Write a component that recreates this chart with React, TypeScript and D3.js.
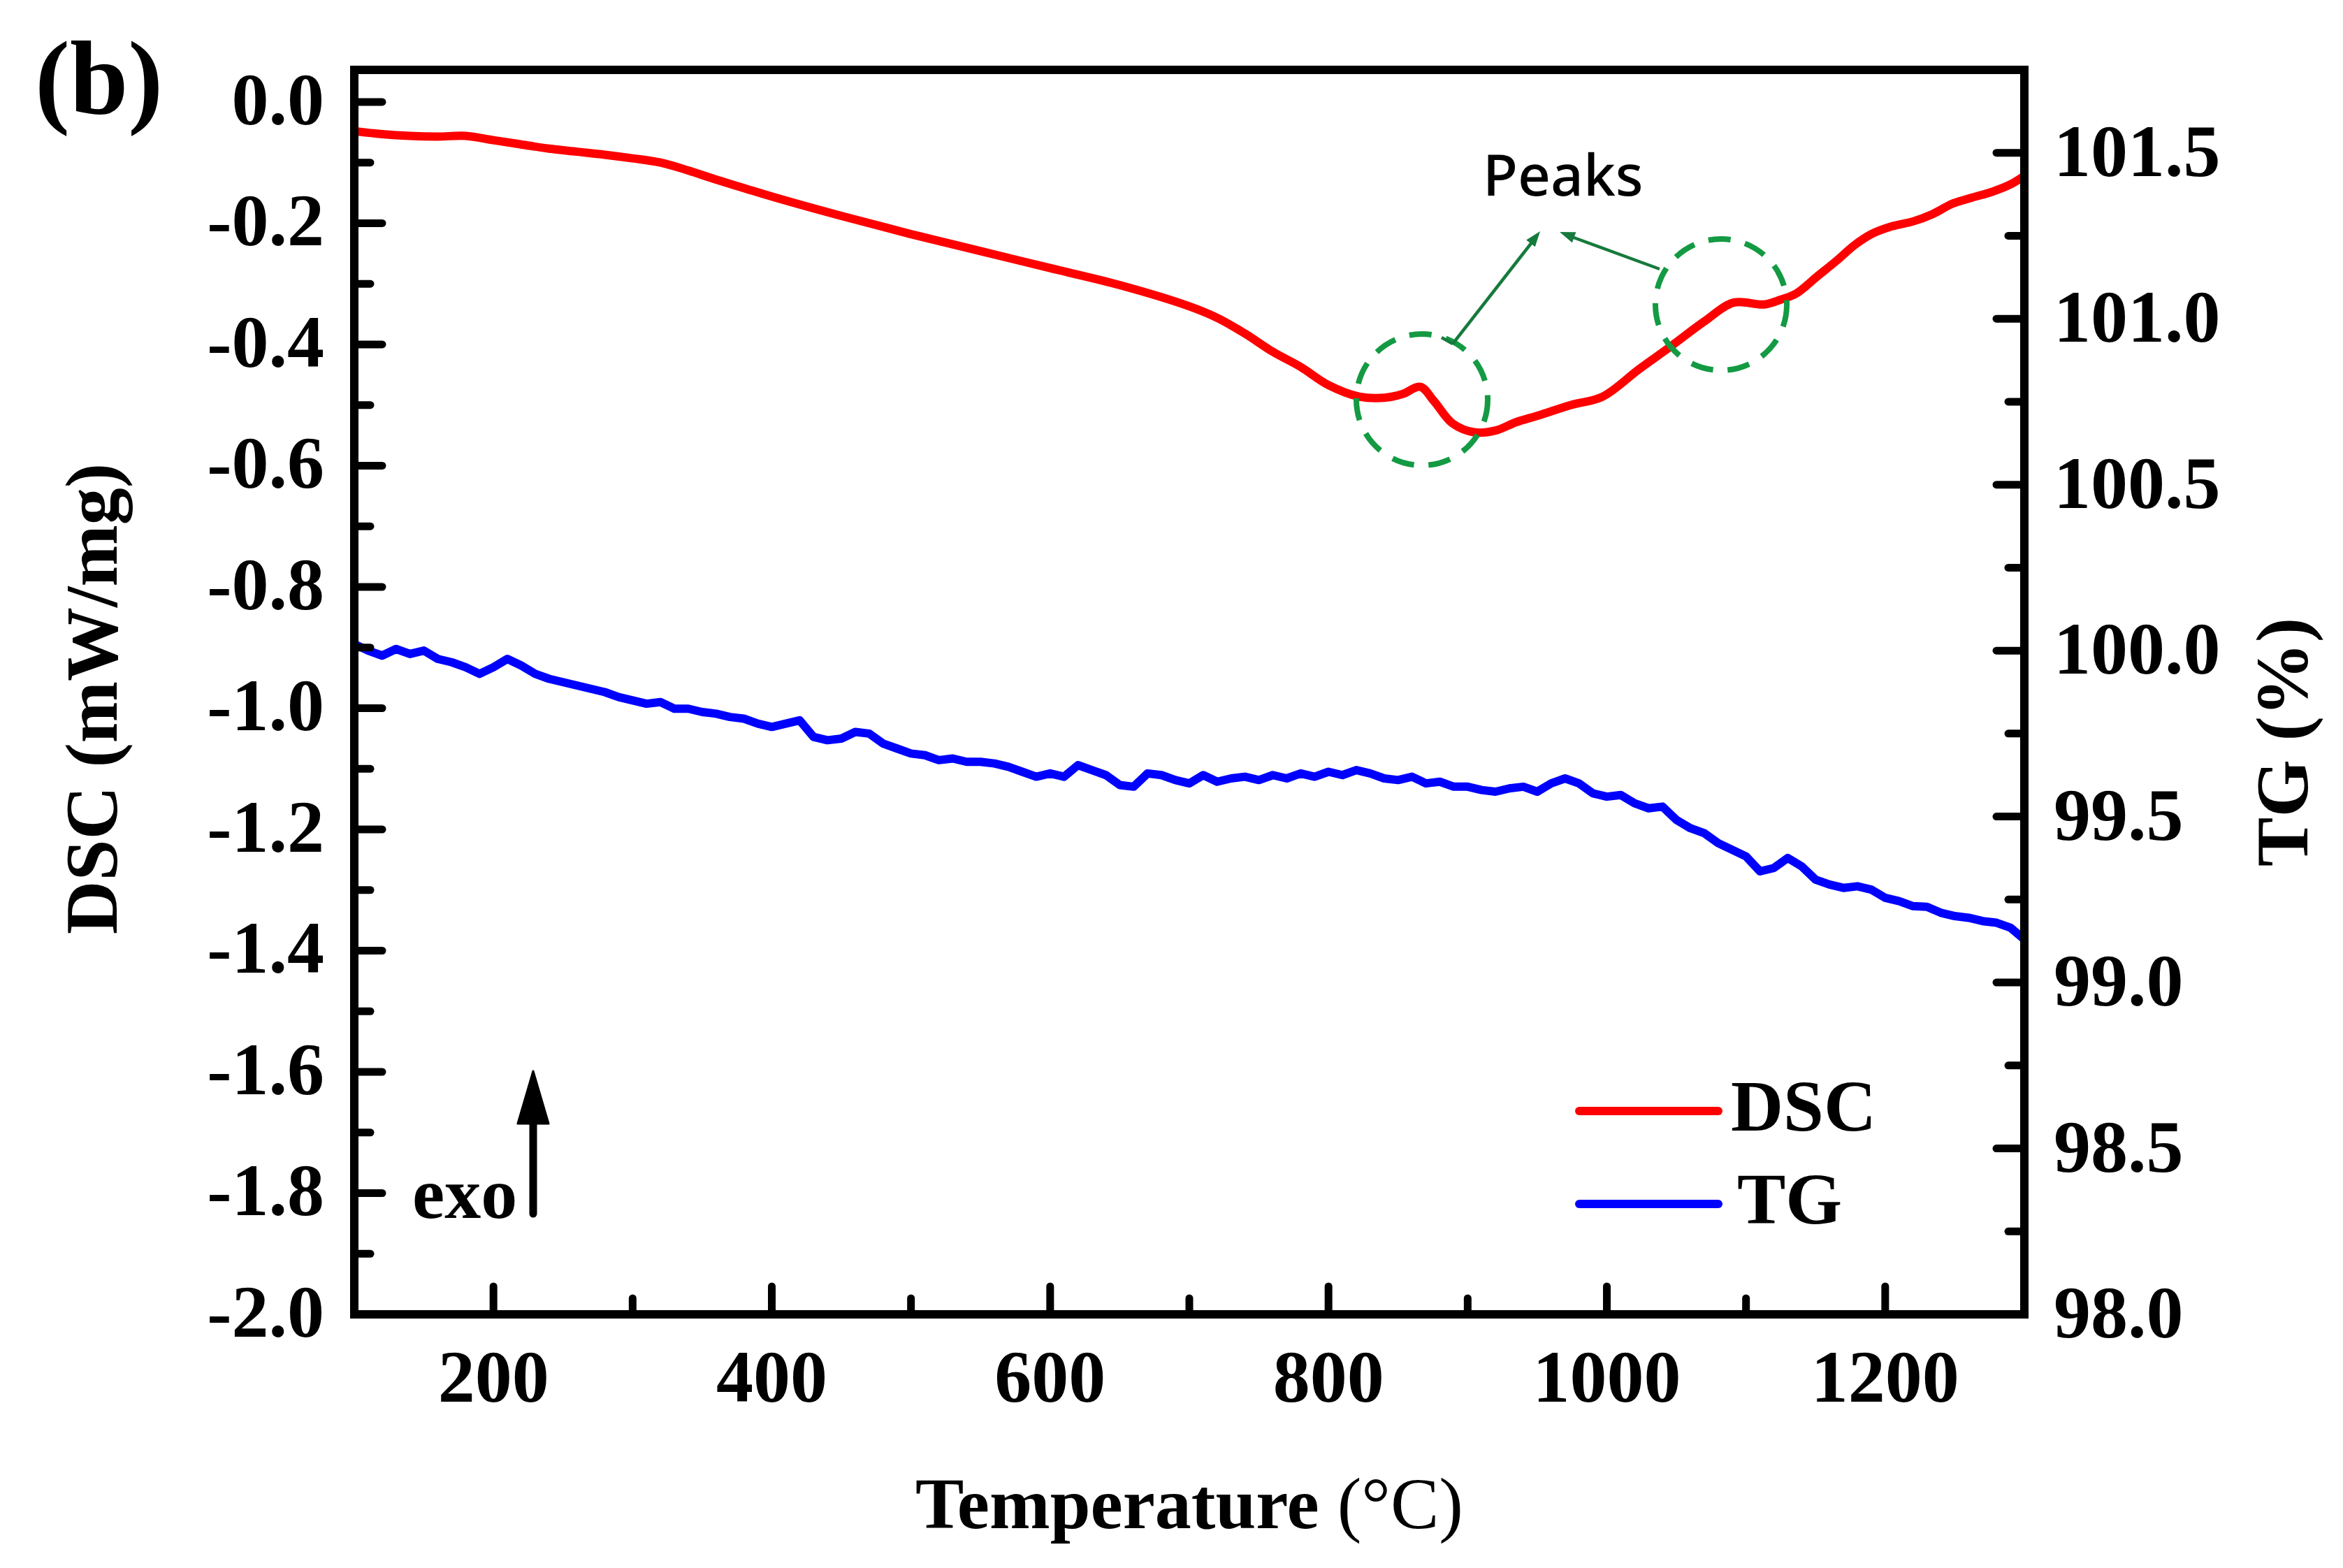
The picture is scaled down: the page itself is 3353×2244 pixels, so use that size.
import React from "react";
import * as d3 from "d3";

const W = 3353;
const H = 2244;
const PLOT = { left: 507, right: 2897, top: 100, bottom: 1881 };

// ---------- data ----------
const xDomain: [number, number] = [100, 1300];
const dscDomain: [number, number] = [-2.0, 0.053];
const tgDomain: [number, number] = [98.0, 101.75];

const xTicks = [200, 400, 600, 800, 1000, 1200];
const xMinorTicks = [300, 500, 700, 900, 1100];
const dscTicks = [0, -0.2, -0.4, -0.6, -0.8, -1.0, -1.2, -1.4, -1.6, -1.8, -2.0];
const dscTickLabels = ["0.0", "-0.2", "-0.4", "-0.6", "-0.8", "-1.0", "-1.2", "-1.4", "-1.6", "-1.8", "-2.0"];
const dscMinorTicks = [-0.1, -0.3, -0.5, -0.7, -0.9, -1.1, -1.3, -1.5, -1.7, -1.9];
const tgTicks = [98.0, 98.5, 99.0, 99.5, 100.0, 100.5, 101.0, 101.5];
const tgTickLabels = ["98.0", "98.5", "99.0", "99.5", "100.0", "100.5", "101.0", "101.5"];
const tgMinorTicks = [98.25, 98.75, 99.25, 99.75, 100.25, 100.75, 101.25];

const dscT = [
  100, 120, 140, 160, 180, 200, 220, 240, 260, 280, 300, 320, 340, 360, 380, 400,
  450, 500, 550, 600, 650, 700, 720, 740, 760, 780, 800, 822, 840, 853, 866, 876,
  889, 905, 920, 935, 951, 974, 997, 1023, 1046, 1070, 1091, 1113, 1125, 1136, 1151,
  1165, 1178, 1190, 1205, 1220, 1234, 1248, 1262, 1277, 1290, 1300,
];
const dscV = [
  -0.048, -0.053, -0.056, -0.057, -0.056, -0.063, -0.07, -0.077, -0.082, -0.087, -0.093, -0.1, -0.113, -0.128, -0.142, -0.156,
  -0.188, -0.218, -0.246, -0.274, -0.302, -0.337, -0.356, -0.382, -0.412, -0.437, -0.467, -0.486, -0.488, -0.482, -0.47, -0.494,
  -0.53, -0.545, -0.542, -0.528, -0.517, -0.5, -0.486, -0.441, -0.403, -0.362, -0.331, -0.334, -0.326, -0.316, -0.288,
  -0.262, -0.236, -0.218, -0.205, -0.197, -0.185, -0.168, -0.158, -0.148, -0.136, -0.122,
];

const tgT = d3.range(100, 1301, 10);
const tgV = [
  100.02, 100.0, 99.985, 100.005, 99.99, 100.0, 99.975, 99.965, 99.95, 99.93, 99.95, 99.975, 99.955,
  99.93, 99.915, 99.905, 99.895, 99.885, 99.875, 99.86, 99.85, 99.84, 99.845, 99.825, 99.825, 99.815,
  99.81, 99.8, 99.795, 99.78, 99.77, 99.78, 99.79, 99.74, 99.73, 99.735, 99.755, 99.75, 99.72, 99.705,
  99.69, 99.685, 99.67, 99.675, 99.665, 99.665, 99.66, 99.65, 99.635, 99.62, 99.63, 99.62, 99.655,
  99.64, 99.625, 99.595, 99.59, 99.63, 99.625, 99.61, 99.6, 99.625, 99.605, 99.615, 99.62, 99.61,
  99.625, 99.615, 99.63, 99.62, 99.635, 99.625, 99.64, 99.63, 99.615, 99.61, 99.62, 99.6, 99.605,
  99.59, 99.59, 99.58, 99.575, 99.585, 99.59, 99.575, 99.6, 99.615, 99.6, 99.57, 99.56, 99.565,
  99.54, 99.525, 99.53, 99.49, 99.465, 99.45, 99.42, 99.4, 99.38, 99.335, 99.345, 99.375, 99.35,
  99.31, 99.295, 99.285, 99.29, 99.28, 99.255, 99.245, 99.23, 99.228, 99.21, 99.2, 99.195, 99.185,
  99.18, 99.165, 99.13,
];

const legendItems = ["DSC", "TG"];
const legendColors = ["#ff0000", "#0000ff"];

// ---------- scales ----------
const x = d3.scaleLinear().domain(xDomain).range([PLOT.left, PLOT.right]);
const yL = d3.scaleLinear().domain(dscDomain).range([PLOT.bottom, PLOT.top]);
const yR = d3.scaleLinear().domain(tgDomain).range([PLOT.bottom, PLOT.top]);

const SERIF = "'Liberation Serif', 'Times New Roman', Times, serif";
const SANS = "'Noto Sans', 'Open Sans', sans-serif";

function arrowHead(x1: number, y1: number, x2: number, y2: number, len: number, half: number) {
  const dx = x2 - x1;
  const dy = y2 - y1;
  const d = Math.hypot(dx, dy);
  const ux = dx / d;
  const uy = dy / d;
  const bx = x2 - ux * len;
  const by = y2 - uy * len;
  const px = -uy;
  const py = ux;
  return `M${x2},${y2}L${bx + px * half},${by + py * half}L${bx - px * half},${by - py * half}Z`;
}

export default function App() {
  const dscLine = d3
    .line<number>()
    .x((_, i) => x(dscT[i]))
    .y((d) => yL(d))
    .curve(d3.curveCatmullRom.alpha(0.5))(dscV) as string;
  const tgLine = d3
    .line<number>()
    .x((_, i) => x(tgT[i]))
    .y((d) => yR(d))
    .curve(d3.curveLinear)(tgV) as string;

  const majorLen = 40;
  const minorLen = 23;
  const tickW = 11;
  const fs = 106;

  // annotation geometry (pixel positions of the callouts)
  const e1 = { cx: 2035, cy: 572, r: 94 };
  const e2 = { cx: 2463, cy: 436, r: 94 };
  const a1 = { x1: 2079, y1: 492, x2: 2204, y2: 331 };
  const a2 = { x1: 2375, y1: 385, x2: 2232, y2: 332 };
  const green = "#139a43";
  const darkGreen = "#167a3c";

  return (
    <svg
      width={W}
      height={H}
      viewBox={`0 0 ${W} ${H}`}
      style={{ position: "absolute", left: 0, top: 0, background: "#fff" }}
      xmlns="http://www.w3.org/2000/svg"
    >
      <rect x={0} y={0} width={W} height={H} fill="#fff" />
      <defs>
        <clipPath id="plotClip">
          <rect x={PLOT.left} y={PLOT.top} width={PLOT.right - PLOT.left} height={PLOT.bottom - PLOT.top} />
        </clipPath>
      </defs>

      {/* data lines */}
      <g clipPath="url(#plotClip)">
        <path d={tgLine} fill="none" stroke="#0000ff" strokeWidth={12} strokeLinejoin="round" />
        <path d={dscLine} fill="none" stroke="#ff0000" strokeWidth={12} strokeLinejoin="round" />
      </g>

      {/* ticks */}
      <g stroke="#000" strokeWidth={tickW} strokeLinecap="round">
        {xTicks.map((t) => (
          <line key={"xt" + t} x1={x(t)} x2={x(t)} y1={PLOT.bottom} y2={PLOT.bottom - majorLen} />
        ))}
        {xMinorTicks.map((t) => (
          <line key={"xm" + t} x1={x(t)} x2={x(t)} y1={PLOT.bottom} y2={PLOT.bottom - minorLen} />
        ))}
        {dscTicks.map((t) => (
          <line key={"lt" + t} x1={PLOT.left} x2={PLOT.left + majorLen} y1={yL(t)} y2={yL(t)} />
        ))}
        {dscMinorTicks.map((t) => (
          <line key={"lm" + t} x1={PLOT.left} x2={PLOT.left + minorLen} y1={yL(t)} y2={yL(t)} />
        ))}
        {tgTicks.map((t) => (
          <line key={"rt" + t} x1={PLOT.right} x2={PLOT.right - majorLen} y1={yR(t)} y2={yR(t)} />
        ))}
        {tgMinorTicks.map((t) => (
          <line key={"rm" + t} x1={PLOT.right} x2={PLOT.right - minorLen} y1={yR(t)} y2={yR(t)} />
        ))}
      </g>

      {/* frame */}
      <rect
        x={PLOT.left}
        y={PLOT.top}
        width={PLOT.right - PLOT.left}
        height={PLOT.bottom - PLOT.top}
        fill="none"
        stroke="#000"
        strokeWidth={12}
      />

      {/* tick labels */}
      <g fontFamily={SERIF} fontWeight="bold" fontSize={fs} fill="#000">
        {xTicks.map((t) => (
          <text key={"xl" + t} x={x(t)} y={2006} textAnchor="middle">
            {String(t)}
          </text>
        ))}
        {dscTicks.map((t, i) => (
          <text key={"ll" + t} x={464} y={yL(t) + 32} textAnchor="end">
            {dscTickLabels[i]}
          </text>
        ))}
        {tgTicks.map((t, i) => (
          <text key={"rl" + t} x={2939} y={yR(t) + 33} textAnchor="start">
            {tgTickLabels[i]}
          </text>
        ))}
      </g>

      {/* axis titles */}
      <text x={1702} y={2187} textAnchor="middle" fontFamily={SERIF} fontSize={104} fill="#000">
        <tspan fontWeight="bold">Temperature </tspan>
        <tspan fontWeight="normal">(°C)</tspan>
      </text>
      <text
        transform={`translate(167,1000) rotate(-90)`}
        textAnchor="middle"
        fontFamily={SERIF}
        fontWeight="bold"
        fontSize={106}
        fill="#000"
      >
        DSC (mW/mg)
      </text>
      <text
        transform={`translate(3302,1062) rotate(-90)`}
        textAnchor="middle"
        fontFamily={SERIF}
        fontWeight="bold"
        fontSize={106}
        fill="#000"
      >
        TG (%)
      </text>

      {/* panel label */}
      <text x={50} y={163} fontFamily={SERIF} fontWeight="bold" fontSize={150} fill="#000">
        (b)
      </text>

      {/* exo arrow */}
      <line x1={763} x2={763} y1={1737} y2={1600} stroke="#000" strokeWidth={11} strokeLinecap="round" />
      <path d={`M763,1533L741,1608L785,1608Z`} fill="#000" stroke="#000" strokeWidth={3} strokeLinejoin="round" />
      <text x={590} y={1743} fontFamily={SERIF} fontWeight="bold" fontSize={104} fill="#000">
        exo
      </text>

      {/* legend */}
      {legendItems.map((name, i) => {
        const ly = 1590 + i * 133;
        return (
          <g key={name}>
            <line x1={2260} x2={2459} y1={ly} y2={ly} stroke={legendColors[i]} strokeWidth={12} strokeLinecap="round" />
            <text
              x={i === 0 ? 2477 : 2486}
              y={ly + 28}
              fontFamily={SERIF}
              fontWeight="bold"
              fontSize={104}
              fill="#000"
            >
              {name}
            </text>
          </g>
        );
      })}

      {/* peak annotations */}
      <g fill="none" stroke={green} strokeWidth={8} strokeDasharray="32 21">
        <ellipse cx={e1.cx} cy={e1.cy} rx={e1.r} ry={e1.r} />
        <ellipse cx={e2.cx} cy={e2.cy} rx={e2.r} ry={e2.r} />
      </g>
      <g stroke={darkGreen} strokeWidth={4.5} fill="none">
        <line x1={a1.x1} y1={a1.y1} x2={a1.x2 - 8} y2={a1.y2 + 11} />
        <line x1={2063} y1={483} x2={a1.x1} y2={a1.y1} />
        <line x1={a2.x1} y1={a2.y1} x2={a2.x2 + 12} y2={a2.y2 + 5} />
      </g>
      <path d={arrowHead(a1.x1, a1.y1, a1.x2, a1.y2, 22, 8)} fill={darkGreen} />
      <path d={arrowHead(a2.x1, a2.y1, a2.x2, a2.y2, 22, 8)} fill={darkGreen} />
      <text x={2122} y={280} fontFamily={SANS} fontWeight={500} fontSize={82} fill="#000">
        Peaks
      </text>
    </svg>
  );
}
